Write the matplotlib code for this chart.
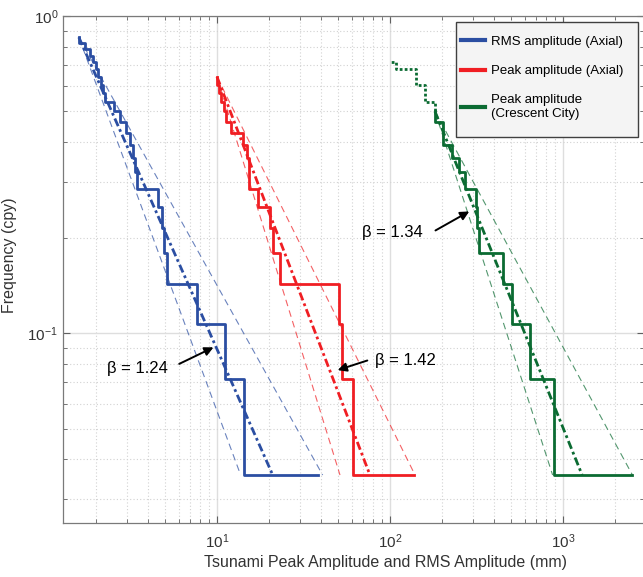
import matplotlib
matplotlib.use('Agg')
import matplotlib.pyplot as plt
from matplotlib.patches import Rectangle
import numpy as np

plt.rcParams['font.family'] = ['Liberation Sans', 'DejaVu Sans']

# record length (years) used to turn event ranks into frequencies
years = 28.

# RMS amplitude (Axial), mm, largest first, and rank of each step
blue_amp = [38.5, 14.3, 11.1, 7.7, 5.17, 4.96, 4.79, 4.54, 3.43, 3.36, 3.26, 3.14,
            2.98, 2.75, 2.54, 2.25, 2.20, 2.13, 2.06, 2.00, 1.91, 1.84, 1.72, 1.59]
blue_rank = [1, 2, 3, 4, 5, 6, 7, 8, 9, 10, 11, 12, 13, 14, 15, 16, 17, 18, 19, 20, 21, 22, 23, 24]

# Peak amplitude (Axial)
red_amp = [137.7, 60.8, 52.8, 50.9, 23.2, 21.2, 20.2, 17.3, 15.4, 15.4, 14.9, 14.2,
           12.0, 11.3, 11.0, 10.6, 10.3, 10.0]
red_rank = [1, 2, 3, 4, 5, 6, 7, 8, 9, 10, 11, 12, 13, 14, 15, 16, 17, 18]

# Peak amplitude (Crescent City), solid part and dotted part
green_amp = [2494, 891, 644, 505, 448, 328, 320, 314, 272, 249, 227, 202, 202, 182]
green_rank = [1, 2, 3, 4, 5, 6, 7, 8, 9, 10, 11, 12, 13, 14]
green_dot_amp = [182, 182, 159, 159, 141, 141, 109, 102]
green_dot_rank = [14, 15, 16, 17, 18, 19, 20, 20]

# fitted power laws (dash-dot) and bounds (dashed): [top, bottom] end points
blue_fit_amp = [1.59, 21.0]
blue_lo_amp = [1.59, 13.7]
blue_hi_amp = [1.59, 40.8]
blue_fit_freq = [0.857, 0.0357]

red_fit_amp = [10.0, 76.6]
red_lo_amp = [10.0, 51.4]
red_hi_amp = [10.0, 139.6]
red_fit_freq = [0.643, 0.0357]

green_fit_amp = [182, 1290]
green_lo_amp = [182, 871]
green_hi_amp = [182, 2520]
green_fit_freq = [0.5, 0.0357]

blue = '#2b4ea2'
red = '#f01e23'
green = '#0b6b32'

W, H = 643, 577
L, R, T, B = 63., 644., 16., 523.
fig = plt.figure(figsize=(W/100., H/100.), dpi=100)
ax = fig.add_axes([L/W, 1-B/H, (R-L)/W, (B-T)/H])

def draw(amp, rank, fit_amp, lo_amp, hi_amp, fit_freq, col, label):
	f = np.array(rank)/years
	ax.plot(lo_amp, fit_freq, color=col, lw=0.8, ls=(0, (6, 4)), alpha=0.7)
	ax.plot(hi_amp, fit_freq, color=col, lw=0.8, ls=(0, (6, 4)), alpha=0.7)
	ax.plot(fit_amp, fit_freq, color=col, lw=2.0, ls=(0, (3, 1.2, 1, 1.2)))
	line, = ax.step(amp, f, where='post', color=col, lw=2.0, label=label)
	return line

l1 = draw(blue_amp, blue_rank, blue_fit_amp, blue_lo_amp, blue_hi_amp, blue_fit_freq, blue, 'RMS amplitude (Axial)')
l2 = draw(red_amp, red_rank, red_fit_amp, red_lo_amp, red_hi_amp, red_fit_freq, red, 'Peak amplitude (Axial)')
l3 = draw(green_amp, green_rank, green_fit_amp, green_lo_amp, green_hi_amp, green_fit_freq, green, 'Peak amplitude\n(Crescent City)')
ax.step(green_dot_amp, np.array(green_dot_rank)/years, where='post', color=green, lw=2.0, ls=(0, (1, 0.8)))

ax.set_xscale('log')
ax.set_yscale('log')
ax.set_xlim(1.288, 10**(1+(R-217)/173.))
ax.set_ylim(0.0252, 1.0)

ax.grid(True, which='major', color='#dedede', lw=1.0, ls='-')
ax.grid(True, which='minor', color='#d2d2d2', lw=0.8, ls=(0, (1, 2)))
ax.set_axisbelow(True)
ax.tick_params(which='both', direction='in', top=True, right=True, colors='#606060',
	labelcolor='#333333', labelsize=11)
ax.tick_params(which='major', length=5)
ax.tick_params(which='minor', length=3)
ax.tick_params(axis='x', which='major', pad=7)
for s in ax.spines.values():
	s.set_color('#7a7a7a')
	s.set_linewidth(0.9)

ax.set_xlabel('Tsunami Peak Amplitude and RMS Amplitude (mm)', fontsize=11.5, color='#333333')
ax.xaxis.set_label_coords((385-L)/(R-L), -(563-B)/(B-T))
ax.xaxis.label.set_va('center')
ax.set_ylabel('Frequency (cpy)', fontsize=11.5, color='#333333')
ax.yaxis.set_label_coords(-(L-10)/(R-L), (B-255)/(B-T))
ax.yaxis.label.set_va('center')

arr = dict(arrowstyle='-|>', color='black', lw=1.4, mutation_scale=13)
ax.annotate('', xy=(9.87, 0.091), xytext=(5.85, 0.0793), arrowprops=arr)
ax.text(5.2, 0.0776, '\u03b2 = 1.24', fontsize=12, ha='right', va='center')
ax.annotate('', xy=(48.1, 0.076), xytext=(76.6, 0.0825), arrowprops=arr)
ax.text(82, 0.0822, '\u03b2 = 1.42', fontsize=12, ha='left', va='center')
ax.annotate('', xy=(296.6, 0.2444), xytext=(177.4, 0.2087), arrowprops=arr)
ax.text(155, 0.2072, '\u03b2 = 1.34', fontsize=12, ha='right', va='center')

# legend box drawn separately so the padding can differ per side
box = Rectangle((456./W, 1-137./H), (638-456.)/W, (137-21.7)/H, transform=fig.transFigure,
	facecolor='#f4f4f4', edgecolor='#404040', lw=1.0, clip_on=False, zorder=4)
ax.add_patch(box)
leg = ax.legend(handles=[l1, l2, l3], loc='upper left', bbox_to_anchor=(460.5/W, 1-35.5/H),
	bbox_transform=fig.transFigure, fontsize=9.5, frameon=False,
	handlelength=1.85, handletextpad=0.45, labelspacing=1.3, borderpad=0.,
	borderaxespad=0.)
leg.set_zorder(5)
for lh in leg.get_lines():
	lh.set_linewidth(3.0)

fig.savefig('out.png', dpi=100)
